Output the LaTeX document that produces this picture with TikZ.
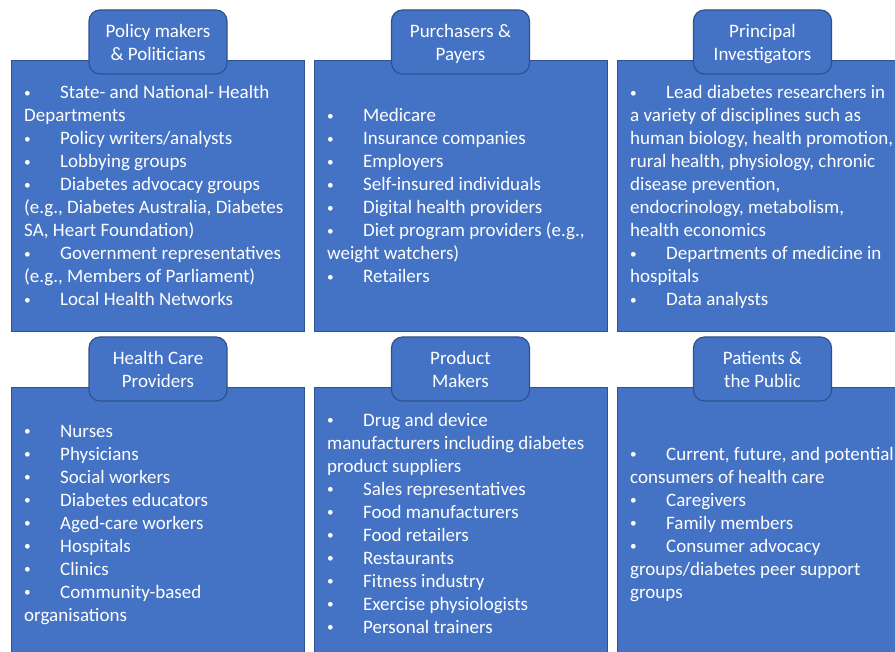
\documentclass[tikz,border=0pt]{standalone}
\usepackage{fontspec}
\setmainfont{Carlito}
\definecolor{panelblue}{HTML}{4472C4}
\definecolor{edgeblue}{HTML}{2F528F}
\newcommand\bl{\strut\makebox[36pt][l]{\raisebox{1.6pt}{\scalebox{0.7}{•}}}}
\newcommand\cl{\strut}
\tikzset{
  panel/.style={draw=edgeblue, line width=1pt, fill=panelblue, anchor=north west,
    minimum width=293pt, minimum height=271pt, inner sep=0pt},
  tabbox/.style={draw=edgeblue, line width=1.2pt, fill=panelblue, rounded corners=11pt,
    minimum width=138pt, minimum height=64pt, inner sep=0pt},
  tabtext/.style={text=white, align=center, font=\fontsize{19}{23}\selectfont, inner sep=0pt},
  bodytext/.style={text=white, align=left, font=\fontsize{19}{23}\selectfont, inner sep=0pt, anchor=north west},
}
\begin{document}
\begin{tikzpicture}[x=1pt,y=-1pt]
\useasboundingbox (0,0) rectangle (895,652);
\clip (0,0) rectangle (895,652);
% top row panels
\node[panel] (p1) at (11,60) {};
\node[panel] (p2) at (314,60) {};
\node[panel] (p3) at (617,60) {};
% bottom row panels
\node[panel, minimum height=290pt] (p4) at (11,387) {};
\node[panel, minimum height=290pt] (p5) at (314,387) {};
\node[panel, minimum height=290pt] (p6) at (617,387) {};
% tabs
\node[tabbox] (tab1) at (158,42) {};
\node[tabbox] (tab2) at (460.5,42) {};
\node[tabbox] (tab3) at (762.5,42) {};
\node[tabbox] (tab4) at (158,369) {};
\node[tabbox] (tab5) at (460.5,369) {};
\node[tabbox] (tab6) at (762.5,369) {};
\node[tabtext] (h1) at (158,44.4) {\strut Policy makers\\\strut \& Politicians};
\node[tabtext] (h2) at (460.5,44.4) {\strut Purchasers \&\\\strut Payers};
\node[tabtext] (h3) at (762.5,44.4) {\strut Principal\\\strut Investigators};
\node[tabtext] (h4) at (158,371.4) {\strut Health Care\\\strut Providers};
\node[tabtext] (h5) at (460.5,371.4) {\strut Product\\\strut Makers};
\node[tabtext] (h6) at (762.5,371.4) {\strut Patients \&\\\strut the Public};
% body texts
\node[bodytext] (b1) at (24,82.6) {%
\bl State- and National- Health\\
\cl Departments\\
\bl Policy writers/analysts\\
\bl Lobbying groups\\
\bl Diabetes advocacy groups\\
\cl (e.g., Diabetes Australia, Diabetes\\
\cl SA, Heart Foundation)\\
\bl Government representatives\\
\cl (e.g., Members of Parliament)\\
\bl Local Health Networks};
\node[bodytext] (b2) at (327,105.6) {%
\bl Medicare\\
\bl Insurance companies\\
\bl Employers\\
\bl Self-insured individuals\\
\bl Digital health providers\\
\bl Diet program providers (e.g.,\\
\cl weight watchers)\\
\bl Retailers};
\node[bodytext] (b3) at (630,82.6) {%
\bl Lead diabetes researchers in\\
\cl a variety of disciplines such as\\
\cl human biology, health promotion,\\
\cl rural health, physiology, chronic\\
\cl disease prevention,\\
\cl endocrinology, metabolism,\\
\cl health economics\\
\bl Departments of medicine in\\
\cl hospitals\\
\bl Data analysts};
\node[bodytext] (b4) at (24,420.9) {%
\bl Nurses\\
\bl Physicians\\
\bl Social workers\\
\bl Diabetes educators\\
\bl Aged-care workers\\
\bl Hospitals\\
\bl Clinics\\
\bl Community-based\\
\cl organisations};
\node[bodytext] (b5) at (327,409.9) {%
\bl Drug and device\\
\cl manufacturers including diabetes\\
\cl product suppliers\\
\bl Sales representatives\\
\bl Food manufacturers\\
\bl Food retailers\\
\bl Restaurants\\
\bl Fitness industry\\
\bl Exercise physiologists\\
\bl Personal trainers};
\node[bodytext] (b6) at (630,443.9) {%
\bl Current, future, and potential\\
\cl consumers of health care\\
\bl Caregivers\\
\bl Family members\\
\bl Consumer advocacy\\
\cl groups/diabetes peer support\\
\cl groups};
\end{tikzpicture}
\end{document}
